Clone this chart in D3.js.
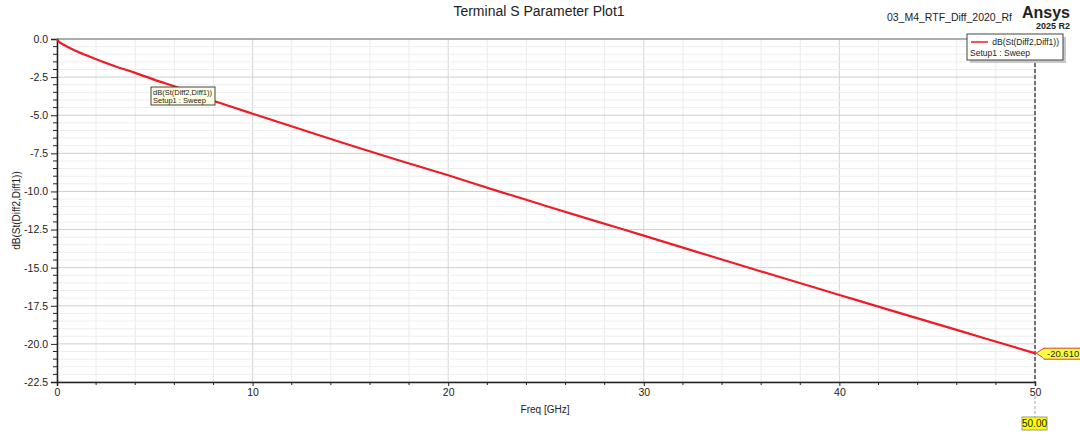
<!DOCTYPE html>
<html>
<head>
  <meta charset="utf-8">
  <script type="text/javascript" src="https://d3js.org/d3.v7.min.js"></script>
  <style type="text/css">
    html, body {
      margin: 0px;
      width: 100%;
      height: 100%;
      background: #ffffff;
    }
    svg { display: block; }
    text { font-family: "Liberation Sans", Arial, sans-serif; fill: #222; }
  </style>
</head>
<body>
<div id="chart"></div>
<script>
"use strict";
// Data
const FREQ = [0, 0.1, 0.25, 0.5, 1, 1.5, 2, 3, 4, 5, 6, 7, 8, 9, 10, 12.5, 15, 17.5, 20,
  22.5, 25, 27.5, 30, 32.5, 35, 37.5, 40, 42.5, 45, 47.5, 50];
const DB = [0, -0.18, -0.31, -0.49, -0.80, -1.07, -1.33, -1.80, -2.22, -2.68, -3.10, -3.55,
  -4.05, -4.48, -4.90, -5.94, -6.97, -7.97, -8.94, -9.96, -10.95, -11.93, -12.90, -13.88,
  -14.86, -15.83, -16.79, -17.75, -18.70, -19.66, -20.61];
const X_TICKS = [0, 10, 20, 30, 40, 50];
const Y_TICKS = [0, -2.5, -5, -7.5, -10, -12.5, -15, -17.5, -20, -22.5];
const TRACE_NAME = "dB(St(Diff2,Diff1))";
const SETUP_NAME = "Setup1 : Sweep";
const MARKER_FREQ = 50;
const MARKER_DB = -20.61;

const WIDTH = 1080, HEIGHT = 434;
const margin = {top: 39, right: 45, bottom: 52, left: 57};

// plain hyphen minus, like the original tool
const fmt = f => (v => d3.format(f)(v).replace("\u2212", "-"));

const svg = d3.select("#chart").append("svg")
  .attr("width", WIDTH).attr("height", HEIGHT);

const x = d3.scaleLinear().domain([0, 50]).range([margin.left, WIDTH - margin.right]);
const y = d3.scaleLinear().domain([-22.5, 0]).range([HEIGHT - margin.bottom, margin.top]);

// grid
const g = svg.append("g");
g.selectAll(".vminor").data(d3.range(0, 50.01, 2))
  .join("line")
  .attr("x1", d => x(d)).attr("x2", d => x(d))
  .attr("y1", y(0)).attr("y2", y(-22.5))
  .attr("stroke", d => d % 10 === 0 ? "#d6d6d6" : "#ebebeb").attr("stroke-width", 1);
g.selectAll(".hminor").data(d3.range(0, -22.51, -0.5))
  .join("line")
  .attr("x1", x(0)).attr("x2", x(50))
  .attr("y1", d => y(d)).attr("y2", d => y(d))
  .attr("stroke", d => Y_TICKS.includes(d) ? "#cfcfcf" : "#eeeeee").attr("stroke-width", 1);

// top border
svg.append("line").attr("x1", x(0)).attr("x2", x(50)).attr("y1", y(0)).attr("y2", y(0))
  .attr("stroke", "#9a9a9a").attr("stroke-width", 1.5);

// y axis
const yAxis = svg.append("g").attr("transform", `translate(${x(0)},0)`)
  .call(d3.axisLeft(y).tickValues(Y_TICKS).tickFormat(fmt(".1f")).tickSize(6).tickPadding(3));
yAxis.append("g").selectAll("line").data(d3.range(0, -22.51, -0.5).filter(d => !Y_TICKS.includes(d)))
  .join("line").attr("x1", -4).attr("x2", 0).attr("y1", d => y(d)).attr("y2", d => y(d))
  .attr("stroke", "#222");

// x axis
const xAxis = svg.append("g").attr("transform", `translate(0,${y(-22.5)})`)
  .call(d3.axisBottom(x).tickValues(X_TICKS).tickSize(4).tickPadding(3));
xAxis.append("g").selectAll("line").data(d3.range(0, 50.01, 2).filter(d => d % 10 !== 0))
  .join("line").attr("x1", d => x(d)).attr("x2", d => x(d)).attr("y1", 0).attr("y2", 3)
  .attr("stroke", "#222");

[yAxis, xAxis].forEach(a => {
  a.select(".domain").attr("stroke", "#222").attr("stroke-width", 1.5);
  a.selectAll(".tick line").attr("stroke", "#222");
  a.selectAll(".tick text").style("font-family", "'Liberation Sans', Arial, sans-serif")
    .style("font-size", "10.5px").attr("fill", "#222");
});

// axis titles
svg.append("text").attr("x", 545).attr("y", 413).attr("text-anchor", "middle")
  .style("font-size", "10px").text("Freq [GHz]");
svg.append("text").attr("transform", `translate(20,${(y(0) + y(-22.5)) / 2}) rotate(-90)`)
  .attr("text-anchor", "middle").style("font-size", "10px").text(TRACE_NAME);

// title and brand
svg.append("text").attr("x", 539).attr("y", 16).attr("text-anchor", "middle")
  .style("font-size", "14px").text("Terminal S Parameter Plot1");
svg.append("text").attr("x", 1012).attr("y", 21).attr("text-anchor", "end")
  .style("font-size", "10.5px").text("03_M4_RTF_Diff_2020_Rf");
svg.append("text").attr("x", 1070).attr("y", 18).attr("text-anchor", "end")
  .style("font-size", "16px").style("font-weight", "bold").attr("fill", "#333").text("Ansys");
svg.append("text").attr("x", 1070).attr("y", 29).attr("text-anchor", "end")
  .style("font-size", "9px").style("font-weight", "bold").attr("fill", "#444").text("2025 R2");

// marker vertical dashed line
svg.append("line").attr("x1", x(MARKER_FREQ)).attr("x2", x(MARKER_FREQ))
  .attr("y1", y(0)).attr("y2", y(-22.5))
  .attr("stroke", "#333").attr("stroke-width", 1.3).attr("stroke-dasharray", "4,2");
svg.append("line").attr("x1", x(MARKER_FREQ)).attr("x2", x(MARKER_FREQ))
  .attr("y1", y(-22.5) + 14).attr("y2", 417)
  .attr("stroke", "#bbb").attr("stroke-width", 1.3).attr("stroke-dasharray", "3,2");

// trace
const line = d3.line().x((d, i) => x(FREQ[i])).y(d => y(d)).curve(d3.curveMonotoneX);
svg.append("path").datum(DB).attr("d", line)
  .attr("fill", "none").attr("stroke", "#ee1c24").attr("stroke-width", 2.2);

// trace label box
const lb = svg.append("g").attr("transform", "translate(151,87)");
lb.append("rect").attr("width", 64).attr("height", 18).attr("fill", "#ffffe0")
  .attr("stroke", "#444").attr("stroke-width", 1);
lb.append("text").attr("x", 2).attr("y", 7.5).style("font-size", "7.5px").text(TRACE_NAME);
lb.append("text").attr("x", 2).attr("y", 16).style("font-size", "7.5px").text(SETUP_NAME);

// legend
const lg = svg.append("g").attr("transform", "translate(967,34)");
lg.append("rect").attr("x", 3).attr("y", 3).attr("width", 96).attr("height", 26).attr("fill", "#c8c8c8");
lg.append("rect").attr("width", 96).attr("height", 26).attr("fill", "#fff")
  .attr("stroke", "#444").attr("stroke-width", 1);
lg.append("line").attr("x1", 4).attr("x2", 21).attr("y1", 8).attr("y2", 8)
  .attr("stroke", "#ee1c24").attr("stroke-width", 1.5);
lg.append("text").attr("x", 92).attr("y", 11).attr("text-anchor", "end")
  .style("font-size", "8.5px").text(TRACE_NAME);
lg.append("text").attr("x", 3).attr("y", 21.5).style("font-size", "8.5px").text(SETUP_NAME);

// y marker value box
const mx = x(MARKER_FREQ), my = y(MARKER_DB);
const mk = svg.append("g");
mk.append("path")
  .attr("d", `M${mx + 1},${my} L${mx + 9},${my - 5} L${mx + 9},${my + 5} Z`)
  .attr("fill", "#ffff40").attr("stroke", "#e04030").attr("stroke-width", 1);
mk.append("rect").attr("x", mx + 9).attr("y", my - 5).attr("width", 50).attr("height", 11)
  .attr("fill", "#ffff40").attr("stroke", "#e04030").attr("stroke-width", 1);
mk.append("path").attr("d", `M${mx + 8},${my - 4} L${mx + 10},${my - 4} L${mx + 10},${my + 5} L${mx + 8},${my + 5} Z`)
  .attr("fill", "#ffff40");
mk.append("text").attr("x", mx + 12).attr("y", my + 4).style("font-size", "9.5px")
  .text(fmt(".3f")(MARKER_DB));

// x marker value box
const xb = svg.append("g").attr("transform", `translate(${mx - 13},417)`);
xb.append("rect").attr("width", 25).attr("height", 13).attr("fill", "#ffff00")
  .attr("stroke", "#999").attr("stroke-width", 1);
xb.append("text").attr("x", 12.5).attr("y", 10).attr("text-anchor", "middle")
  .style("font-size", "10px").text(fmt(".2f")(MARKER_FREQ));
</script>
</body>
</html>
